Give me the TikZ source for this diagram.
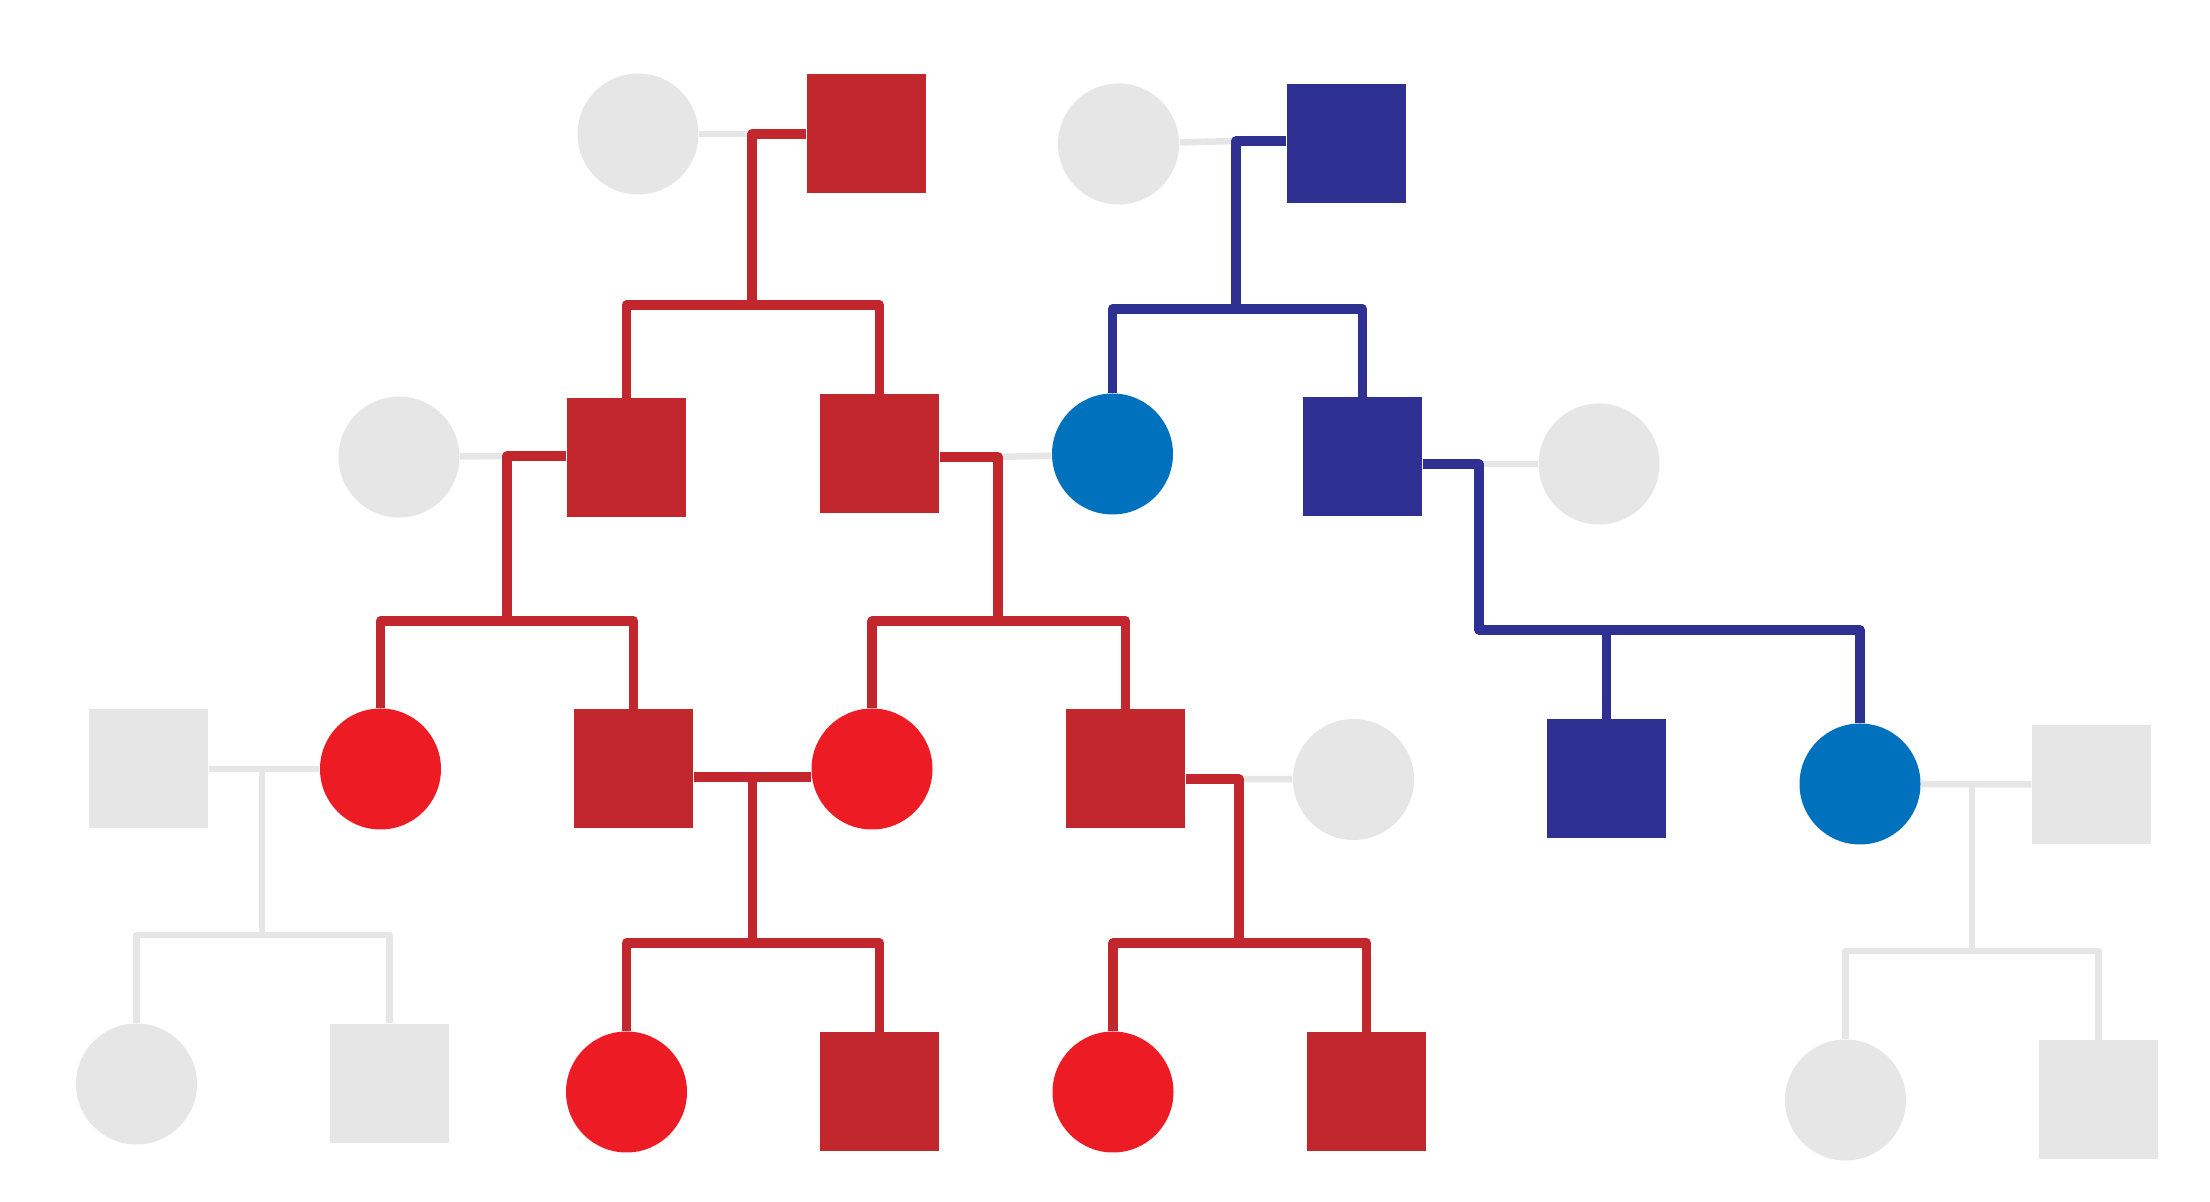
\documentclass[tikz,border=0pt]{standalone}
\usepackage{tikz}
\usepackage{xcolor}
\definecolor{pdred}{RGB}{193,39,45}
\definecolor{pdbright}{RGB}{237,28,36}
\definecolor{pdnavy}{RGB}{46,49,146}
\definecolor{pdblue}{RGB}{0,113,188}
\definecolor{pdgray}{RGB}{230,230,230}
\tikzstyle{male} = [rectangle, minimum size=1.19cm, inner sep=0pt, draw=none]
\tikzstyle{female} = [circle, minimum size=1.21cm, inner sep=0pt, draw=none]
\tikzstyle{redline} = [line width=2.7pt, line join=round, color=pdred]
\tikzstyle{blueline} = [line width=2.7pt, line join=round, color=pdnavy]
\tikzstyle{greyline} = [line width=1.85pt, line join=round, color=pdgray]

\begin{document}
\begin{tikzpicture}[x=1cm, y=-1cm]
\useasboundingbox (0,0) rectangle (22.1,12.02);

% Generation 1
\node (g1a) [female, fill=pdgray] at (6.38,1.34) {};
\node (g1b) [male, fill=pdred] at (8.66,1.34) {};
\node (g1c) [female, fill=pdgray] at (11.185,1.44) {};
\node (g1d) [male, fill=pdnavy] at (13.465,1.44) {};

% Generation 2
\node (g2a) [female, fill=pdgray] at (3.99,4.57) {};
\node (g2b) [male, fill=pdred] at (6.265,4.58) {};
\node (g2c) [male, fill=pdred] at (8.795,4.54) {};
\node (g2d) [female, fill=pdblue] at (11.125,4.54) {};
\node (g2e) [male, fill=pdnavy] at (13.625,4.57) {};
\node (g2f) [female, fill=pdgray] at (15.99,4.64) {};

% Generation 3
\node (g3a) [male, fill=pdgray] at (1.485,7.69) {};
\node (g3b) [female, fill=pdbright] at (3.805,7.69) {};
\node (g3c) [male, fill=pdred] at (6.335,7.69) {};
\node (g3d) [female, fill=pdbright] at (8.72,7.69) {};
\node (g3e) [male, fill=pdred] at (11.255,7.69) {};
\node (g3f) [female, fill=pdgray] at (13.535,7.795) {};
\node (g3g) [male, fill=pdnavy] at (16.065,7.79) {};
\node (g3h) [female, fill=pdblue] at (18.60,7.84) {};
\node (g3i) [male, fill=pdgray] at (20.915,7.845) {};

% Generation 4
\node (g4a) [female, fill=pdgray] at (1.365,10.84) {};
\node (g4b) [male, fill=pdgray] at (3.895,10.835) {};
\node (g4c) [female, fill=pdbright] at (6.265,10.92) {};
\node (g4d) [male, fill=pdred] at (8.795,10.92) {};
\node (g4e) [female, fill=pdbright] at (11.13,10.92) {};
\node (g4f) [male, fill=pdred] at (13.665,10.92) {};
\node (g4g) [female, fill=pdgray] at (18.455,11.00) {};
\node (g4h) [male, fill=pdgray] at (20.985,11.00) {};

% Couples and sibships
\coordinate (m1) at (7.52,1.34);   \coordinate (s1) at (7.52,3.05);
\coordinate (m2) at (12.36,1.41);  \coordinate (s2) at (12.36,3.09);
\coordinate (m3) at (5.07,4.56);   \coordinate (s3) at (5.07,6.21);
\coordinate (m4) at (9.98,4.57);   \coordinate (s4) at (9.98,6.21);
\coordinate (m5) at (14.79,4.64);  \coordinate (s5) at (14.79,6.30);
\coordinate (m6) at (2.62,7.69);   \coordinate (s6) at (2.62,9.35);
\coordinate (m7) at (7.525,7.77);  \coordinate (s7) at (7.525,9.43);
\coordinate (m8) at (12.39,7.79);  \coordinate (s8) at (12.39,9.43);
\coordinate (m9) at (19.72,7.85);  \coordinate (s9) at (19.72,9.51);

% Connections
\draw[greyline] (g1a) -- (m1);
\draw[redline] (g1b) -- (m1) -- (s1);
\draw[redline] (g2b.north) |- (s1) -| (g2c.north);

\draw[greyline] (g1c) -- (m2);
\draw[blueline] (m2 -| g1d.west) -- (m2) -- (s2);
\draw[blueline] (g2d.north) |- (s2) -| (g2e.north);

\draw[greyline] (g2a) -- (m3);
\draw[redline] (m3 -| g2b.west) -- (m3) -- (s3);
\draw[redline] (g3b.north) |- (s3) -| (g3c.north);

\draw[greyline] (g2d) -- (m4);
\draw[redline] (m4 -| g2c.east) -- (m4) -- (s4);
\draw[redline] (g3d.north) |- (s4) -| (g3e.north);

\draw[greyline] (g2f) -- (m5);
\draw[blueline] (m5 -| g2e.east) -- (m5) -- (s5) -| (g3h.north);
\draw[blueline] (g3g.north) -- (g3g.north |- s5);

\draw[greyline] (g3a) -- (g3b);
\draw[greyline] (m6) -- (s6);
\draw[greyline] (g4a.north) |- (s6) -| (g4b.north);

\draw[redline] (m7 -| g3c.east) -- (m7 -| g3d.west);
\draw[redline] (m7) -- (s7);
\draw[redline] (g4c.north) |- (s7) -| (g4d.north);

\draw[greyline] (g3f) -- (m8);
\draw[redline] (m8 -| g3e.east) -- (m8) -- (s8);
\draw[redline] (g4e.north) |- (s8) -| (g4f.north);

\draw[greyline] (g3h) -- (g3i);
\draw[greyline] (m9) -- (s9);
\draw[greyline] (g4g.north) |- (s9) -| (g4h.north);
\end{tikzpicture}
\end{document}
